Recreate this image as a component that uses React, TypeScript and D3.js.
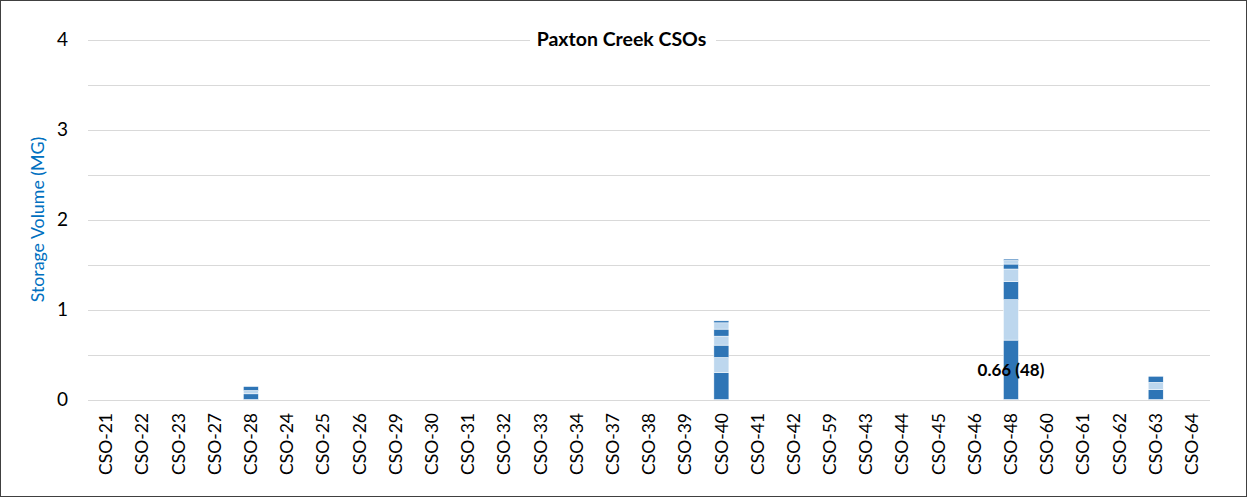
import React, { useEffect } from "react";
import * as d3 from "d3";

const categories = [
  "CSO-21", "CSO-22", "CSO-23", "CSO-27", "CSO-28", "CSO-24", "CSO-25", "CSO-26",
  "CSO-29", "CSO-30", "CSO-31", "CSO-32", "CSO-33", "CSO-34", "CSO-37", "CSO-38",
  "CSO-39", "CSO-40", "CSO-41", "CSO-42", "CSO-59", "CSO-43", "CSO-44", "CSO-45",
  "CSO-46", "CSO-48", "CSO-60", "CSO-61", "CSO-62", "CSO-63", "CSO-64",
];

// stacked layers, bottom to top (values in MG)
const layer1 = [0, 0, 0, 0, 0.063, 0, 0, 0, 0, 0, 0, 0, 0, 0, 0, 0, 0, 0.30, 0, 0, 0, 0, 0, 0, 0, 0.66, 0, 0, 0, 0.11, 0];
const layer2 = [0, 0, 0, 0, 0.037, 0, 0, 0, 0, 0, 0, 0, 0, 0, 0, 0, 0, 0.167, 0, 0, 0, 0, 0, 0, 0, 0.45, 0, 0, 0, 0.081, 0];
const layer3 = [0, 0, 0, 0, 0.044, 0, 0, 0, 0, 0, 0, 0, 0, 0, 0, 0, 0, 0.137, 0, 0, 0, 0, 0, 0, 0, 0.20, 0, 0, 0, 0.067, 0];
const layer4 = [0, 0, 0, 0, 0, 0, 0, 0, 0, 0, 0, 0, 0, 0, 0, 0, 0, 0.10, 0, 0, 0, 0, 0, 0, 0, 0.14, 0, 0, 0, 0, 0];
const layer5 = [0, 0, 0, 0, 0, 0, 0, 0, 0, 0, 0, 0, 0, 0, 0, 0, 0, 0.078, 0, 0, 0, 0, 0, 0, 0, 0.055, 0, 0, 0, 0, 0];
const layer6 = [0, 0, 0, 0, 0, 0, 0, 0, 0, 0, 0, 0, 0, 0, 0, 0, 0, 0.07, 0, 0, 0, 0, 0, 0, 0, 0.04, 0, 0, 0, 0, 0];
const layer7 = [0, 0, 0, 0, 0, 0, 0, 0, 0, 0, 0, 0, 0, 0, 0, 0, 0, 0.022, 0, 0, 0, 0, 0, 0, 0, 0.015, 0, 0, 0, 0, 0];

const layers = [layer1, layer2, layer3, layer4, layer5, layer6, layer7];
const layerColors = ["#2E75B6", "#BDD7EE", "#2E75B6", "#BDD7EE", "#2E75B6", "#BDD7EE", "#2E75B6"];

const yTicks = [0, 1, 2, 3, 4];
const gridValues = [0, 0.5, 1, 1.5, 2, 2.5, 3, 3.5, 4];

const dataLabels = [{ category: "CSO-48", layer: 0, text: "0.66 (48)" }];

const title = "Paxton Creek CSOs";
const yTitle = "Storage Volume (MG)";

const W = 1247;
const H = 497;
const FONT = "Lato, 'Open Sans', sans-serif";

export default function App() {
  useEffect(() => {
    document.body.style.margin = "0";
  }, []);

  const left = 88;
  const right = 1210;
  const y0 = 399.5;
  const y4 = 39.5;

  const x = d3
    .scaleBand<string>()
    .domain(categories)
    .range([left, right])
    .paddingInner(0.585)
    .paddingOuter(0.2925);
  const y = d3.scaleLinear().domain([0, 4]).range([y0, y4]);

  const table = categories.map((c, i) => {
    const row: Record<string, number | string> = { cat: c };
    layers.forEach((l, k) => (row["L" + k] = l[i]));
    return row;
  });
  const keys = layers.map((_, k) => "L" + k);
  const stacked = d3.stack<any>().keys(keys)(table);

  return (
    <svg width={W} height={H} style={{ display: "block" }} fontFamily={FONT}>
      <rect x={0} y={0} width={W} height={H} fill="#fff" />
      <rect x={0.5} y={0.5} width={W - 1} height={H - 1} fill="none" stroke="#404040" strokeWidth={1} />
      {gridValues.map((g) => (
        <line key={g} x1={left} x2={right} y1={Math.round(y(g)) + 0.5} y2={Math.round(y(g)) + 0.5} stroke="#D9D9D9" strokeWidth={1} />
      ))}
      {yTicks.map((t) => (
        <text key={t} x={68} y={y(t)} dy="0.35em" textAnchor="end" fontSize={19} fill="#000">
          {t}
        </text>
      ))}
      <text
        transform={`translate(38, ${(y0 + y4) / 2}) rotate(-90)`}
        textAnchor="middle"
        dy="0.35em"
        fontSize={17.8}
        fill="#0070C0"
      >
        {yTitle}
      </text>
      {stacked.map((s, k) => (
        <g key={k} fill={layerColors[k]}>
          {s.map((d, i) => {
            const h = y(d[0]) - y(d[1]);
            if (h <= 0) return null;
            return (
              <rect
                key={i}
                x={x(categories[i])}
                y={y(d[1])}
                width={x.bandwidth()}
                height={h}
                stroke="#fff"
                strokeWidth={0.5}
              />
            );
          })}
        </g>
      ))}
      {dataLabels.map((l, i) => {
        const idx = categories.indexOf(l.category);
        const seg = stacked[l.layer][idx];
        const cx = (x(l.category) as number) + x.bandwidth() / 2;
        const cy = (y(seg[0]) + y(seg[1])) / 2;
        return (
          <text key={i} x={cx} y={cy} dy="0.35em" textAnchor="middle" fontSize={17} fontWeight="bold" fill="#000">
            {l.text}
          </text>
        );
      })}
      {categories.map((c) => (
        <text
          key={c}
          transform={`translate(${(x(c) as number) + x.bandwidth() / 2}, 413) rotate(-90)`}
          textAnchor="end"
          dy="0.35em"
          fontSize={17.5}
          fill="#000"
        >
          {c}
        </text>
      ))}
      <rect x={530} y={28} width={186} height={24} fill="#fff" />
      <text x={621.5} y={y4} dy="0.35em" textAnchor="middle" fontSize={19.5} fontWeight="bold" fill="#000">
        {title}
      </text>
    </svg>
  );
}
